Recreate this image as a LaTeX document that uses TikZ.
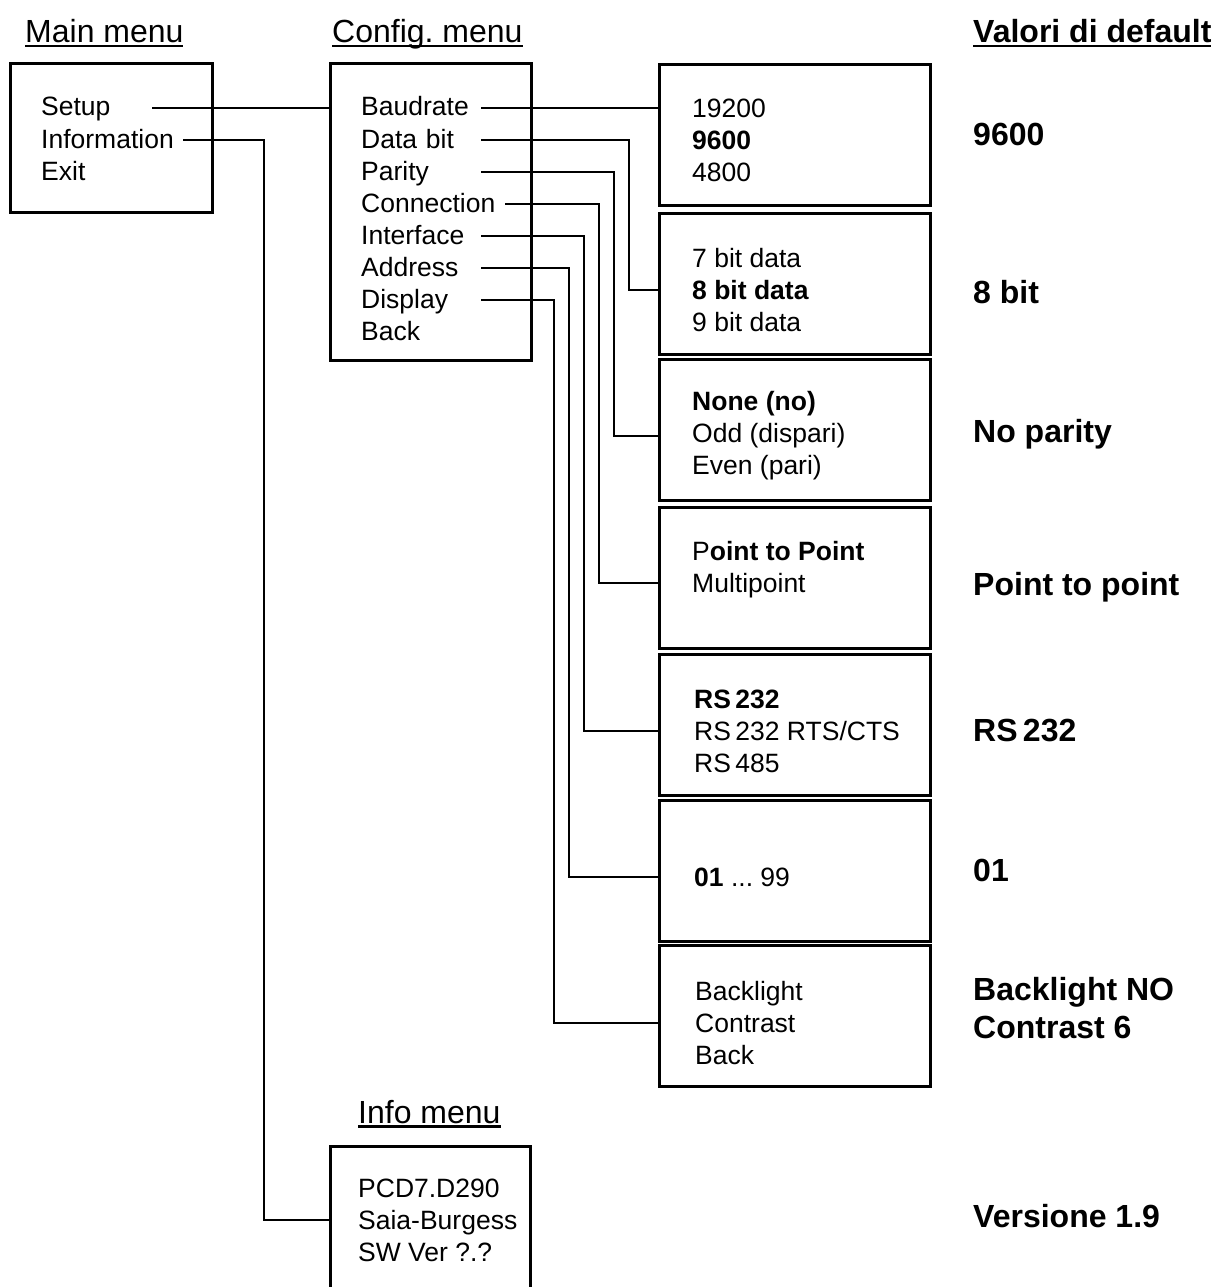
\documentclass[tikz,border=0pt]{standalone}
\usepackage{fontspec}
\setmainfont{Liberation Sans}
\frenchspacing

\newsavebox\ulbox
\newcommand{\ulin}[1]{\sbox\ulbox{#1}\rlap{\rule[-4.5pt]{\wd\ulbox}{2.2pt}}\usebox\ulbox}

\begin{document}
\begin{tikzpicture}
  [x=1pt, y=-1pt,
   box/.style={draw, line width=3pt, inner sep=0pt},
   optbox/.style={box, minimum width=271pt, minimum height=141pt},
   item/.style={anchor=west, inner sep=0pt, text width=#1, align=left,
                text height=16pt, text depth=0pt, font=\fontsize{26.5}{32}\selectfont},
   item/.default=120pt,
   opts/.style={anchor=west, inner sep=0pt, align=left, font=\fontsize{26.5}{32}\selectfont},
   head/.style={anchor=base west, inner sep=0pt, font=\fontsize{32}{38}\selectfont},
   dflt/.style={anchor=base west, inner sep=0pt, align=left, font=\fontsize{32}{38}\selectfont\bfseries},
   wire/.style={line width=2.6pt}]

  \useasboundingbox (0,0) rectangle (1215,1287);
  \clip (0,0) rectangle (1215,1287);

  % headings
  \node[head] (mainh) at (25,43) {\ulin{Main menu}};
  \node[head] (cfgh) at (332,43) {\ulin{Config. menu}};
  \node[head] (infoh) at (358,1123) {\ulin{Info menu}};
  \node[dflt] (valh) at (973,43) {\ulin{Valori di default}};

  % menus
  \node[box, minimum width=202pt, minimum height=148pt] (mainbox) at (111,138) {};
  \node[box, minimum width=201pt, minimum height=296pt] (cfg) at (430.5,212) {};
  \node[box, minimum width=200pt, minimum height=160pt] (ibox) at (430,1226) {};

  \node[item=111pt] (setup) at (41,108) {Setup};
  \node[item=142pt] (inform) at (41,140) {Information};
  \node[item] (exitm) at (41,172) {Exit};

  \node[item] (baud) at (361,108) {Baudrate};
  \node[item] (datab) at (361,140) {Data bit};
  \node[item] (parity) at (361,172) {Parity};
  \node[item=144pt] (conn) at (361,204) {Connection};
  \node[item] (iface) at (361,236) {Interface};
  \node[item] (addr) at (361,268) {Address};
  \node[item] (disp) at (361,300) {Display};
  \node[item] (back) at (361,332) {Back};

  \node[opts] (ilist) at (358,1220) {PCD7.D290\\Saia-Burgess\\SW Ver ?.?};

  % option boxes
  \foreach \n/\yy in {1/135, 2/283.5, 3/430, 4/578, 5/724.5, 6/870.5, 7/1015.5}
    \node[optbox] (b\n) at (795,\yy) {};

  \node[opts] (o1) at (692,140) {19200\\\textbf{9600}\\4800};
  \node[opts] (o2) at (692,290) {7 bit data\\\textbf{8 bit data}\\9 bit data};
  \node[opts] (o3) at (692,436) {\textbf{None (no)}\\Odd (dispari)\\Even (pari)};
  \node[opts] (o4) at (692,583) {P\textbf{oint to Point}\\Multipoint\\\mbox{}};
  \node[opts] (o5) at (694,731) {\textbf{RS\,232}\\RS\,232 RTS/CTS\\RS\,485};
  \node[opts] (o6) at (694,877) {\textbf{01} ... 99};
  \node[opts] (o7) at (695,1023) {Backlight\\Contrast\\Back};

  % default values
  \node[dflt] (v1) at (973,146) {9600};
  \node[dflt] (v2) at (973,303) {8 bit};
  \node[dflt] (v3) at (973,442) {No parity};
  \node[dflt] (v4) at (973,595) {Point to point};
  \node[dflt] (v5) at (973,741) {RS\,232};
  \node[dflt] (v6) at (973,881) {01};
  \node[dflt, anchor=west] (v7) at (973,1008.5) {Backlight NO\\Contrast 6};
  \node[dflt] (v8) at (973,1227) {Versione 1.9};

  \draw[wire] (setup.east) -- (cfg.west |- setup.east);
  \draw[wire] (inform.east) -| (264,0 |- ilist.west) -- (ibox.west |- ilist.west);
  \draw[wire] (baud.east) -- (b1.west |- baud.east);
  \foreach \from/\xx/\via/\to in {datab/629/o2/b2, parity/614/o3/b3, conn/599/o4/b4,
                                   iface/584/o5/b5, addr/569/o6/b6, disp/554/o7/b7}
    \draw[wire] (\from.east) -| (\xx,0 |- \via.west) -- (\to.west |- \via.west);
\end{tikzpicture}
\end{document}
